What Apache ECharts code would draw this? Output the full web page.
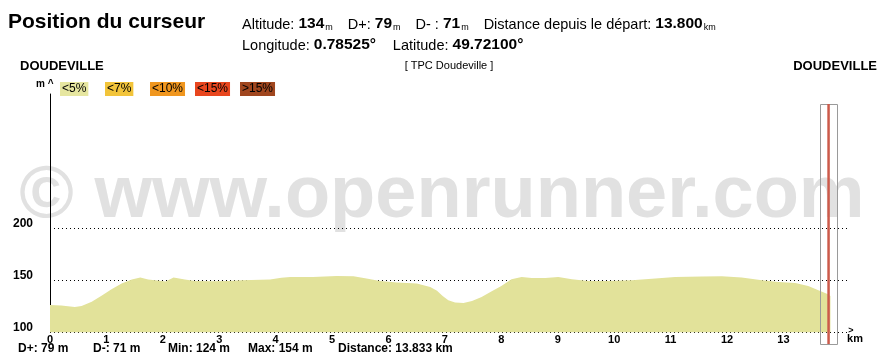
<!DOCTYPE html>
<html>
<head>
<meta charset="utf-8">
<script src="https://cdn.jsdelivr.net/npm/echarts@6/dist/echarts.min.js"></script>
<style>
html,body{margin:0;padding:0;background:#fff;}
#chart{width:884px;height:363px;}
</style>
</head>
<body>
<div id="chart"></div>
<script>
// ---- data ----
const distanceKm = [0, 0.2, 0.44, 0.56, 0.74, 0.92, 1.09, 1.27, 1.45, 1.6, 1.74, 1.98, 2.05, 2.19, 2.39, 2.57, 2.87, 3.16, 3.4, 3.9, 4.1, 4.26, 4.66, 5.08, 5.38, 5.61, 5.85, 6.15, 6.5, 6.74, 6.86, 6.96, 7.06, 7.18, 7.33, 7.48, 7.65, 7.83, 8.0, 8.18, 8.36, 8.54, 8.78, 9.01, 9.25, 9.54, 9.9, 10.31, 10.73, 11.08, 11.55, 11.91, 12.26, 12.62, 12.91, 13.21, 13.44, 13.62, 13.77, 13.833];
const elevationM = [126.5, 126, 124.5, 125.5, 129.5, 135.5, 141.5, 147, 151, 152.7, 150.8, 149.5, 149, 152.7, 150.8, 149.5, 149.2, 149.5, 150.2, 150.8, 152.5, 153.4, 153.4, 154.3, 154, 151.8, 149.5, 147.9, 147, 143.7, 140, 135, 131, 128.7, 128.4, 130.3, 134.1, 139.6, 144.7, 151.1, 153.4, 152.4, 152.4, 153.4, 151.1, 149.5, 149.5, 150.2, 151.8, 153.4, 153.7, 154, 152.7, 150.2, 148.6, 147.6, 144.7, 140.6, 137.3, 135];
const yTickLabels = [100, 150, 200];
const xTickLabels = [0,1,2,3,4,5,6,7,8,9,10,11,12,13];
const cursorKm = 13.8;
const legendLabels = ['<5%', '<7%', '<10%', '<15%', '>15%'];
const legendColors = ['#e6e6a0', '#f2c43a', '#f0961e', '#e8461e', '#a0461e'];
const statLabels = ['D+: 79 m', 'D-: 71 m', 'Min: 124 m', 'Max: 154 m', 'Distance: 13.833 km'];
const startName = 'DOUDEVILLE';
const endName = 'DOUDEVILLE';
const routeName = '[ TPC Doudeville ]';

const FF = '"Liberation Sans", Arial, sans-serif';
const chart = echarts.init(document.getElementById('chart'), null, {renderer: 'canvas'});

const seriesData = distanceKm.map((d, i) => [d, elevationM[i]]);

const legendX = [60, 105, 150, 195, 240];
const statX = [18, 93, 168, 248, 338];

const graphics = [
  {type: 'text', z: -1, x: 442, y: 197, style: {text: '\u00a9 www.openrunner.com', font: 'bold 74px ' + FF, fill: '#e1e1e1', align: 'center', verticalAlign: 'middle'}},
  {type: 'text', x: 8, y: 22, style: {text: 'Position du curseur', font: 'bold 21px ' + FF, fill: '#000', verticalAlign: 'middle'}},
  {type: 'text', x: 242, y: 32, style: {
    text: '{l|Altitude: }{v|134}{u|m}{l|D+: }{v|79}{u|m}{l|D- : }{v|71}{u|m}{l|Distance depuis le départ: }{v|13.800}{e|km}',
    verticalAlign: 'bottom',
    rich: {
      l: {font: '14.5px ' + FF, fill: '#000', lineHeight: 16, verticalAlign: 'bottom'},
      v: {font: 'bold 15.5px ' + FF, fill: '#000', lineHeight: 16, verticalAlign: 'bottom'},
      u: {font: '9px ' + FF, fill: '#000', lineHeight: 16, verticalAlign: 'bottom', padding: [0, 15, 0, 1]},
      e: {font: '9px ' + FF, fill: '#000', lineHeight: 16, verticalAlign: 'bottom', padding: [0, 0, 0, 1]}
    }
  }},
  {type: 'text', x: 242, y: 53, style: {
    text: '{l|Longitude: }{v|0.78525\u00b0}{s| }{l|Latitude: }{v|49.72100\u00b0}',
    verticalAlign: 'bottom',
    rich: {
      l: {font: '14.5px ' + FF, fill: '#000', lineHeight: 16, verticalAlign: 'bottom'},
      v: {font: 'bold 15.5px ' + FF, fill: '#000', lineHeight: 16, verticalAlign: 'bottom'},
      s: {font: '14px ' + FF, lineHeight: 16, padding: [0, 13, 0, 0]}
    }
  }},
  {type: 'text', x: 20, y: 66, style: {text: startName, font: 'bold 13px ' + FF, fill: '#000', verticalAlign: 'middle'}},
  {type: 'text', x: 877, y: 66, style: {text: endName, font: 'bold 13px ' + FF, fill: '#000', align: 'right', verticalAlign: 'middle'}},
  {type: 'text', x: 449, y: 66, style: {text: routeName, font: '11px ' + FF, fill: '#000', align: 'center', verticalAlign: 'middle'}},
  {type: 'text', x: 36, y: 84, style: {text: 'm ^', font: 'bold 10px ' + FF, fill: '#000', verticalAlign: 'middle'}},
  {type: 'text', x: 851, y: 331, style: {text: '>', font: 'bold 9px ' + FF, fill: '#000', align: 'center', verticalAlign: 'middle'}},
  {type: 'text', x: 855, y: 339, style: {text: 'km', font: 'bold 11px ' + FF, fill: '#000', align: 'center', verticalAlign: 'middle'}}
];
legendLabels.forEach((t, i) => {
  graphics.push({type: 'text', x: legendX[i], y: 82, style: {text: t, font: '12px ' + FF, fill: '#000', backgroundColor: legendColors[i], padding: [1, 2, 1, 2], lineHeight: 12, verticalAlign: 'top'}});
});
statLabels.forEach((t, i) => {
  graphics.push({type: 'text', x: statX[i], y: 349, style: {text: t, font: 'bold 12px ' + FF, fill: '#000', verticalAlign: 'middle'}});
});

const option = {
  animation: false,
  backgroundColor: '#fff',
  grid: {left: 50, right: 34, top: 94, bottom: 30.5},
  xAxis: {
    type: 'value', min: 0, max: 14.18, interval: 1,
    axisLine: {show: false}, axisTick: {show: false}, splitLine: {show: false},
    axisLabel: {
      margin: 2, color: '#000', fontWeight: 'bold', fontSize: 11, fontFamily: FF,
      showMaxLabel: false,
      formatter: v => (xTickLabels.indexOf(v) >= 0 ? String(v) : '')
    }
  },
  yAxis: {
    type: 'value', min: 100, max: 329, interval: 50,
    axisLine: {show: true, lineStyle: {color: '#000', width: 1}},
    axisTick: {show: false},
    axisLabel: {
      margin: 17, color: '#000', fontWeight: 'bold', fontSize: 12, fontFamily: FF,
      verticalAlign: 'bottom', lineHeight: 9, showMaxLabel: false,
      formatter: v => (yTickLabels.indexOf(v) >= 0 ? String(v) : '')
    },
    splitLine: {show: true, lineStyle: {type: [1, 3], width: 1,
      color: ['#000', '#000', '#000', 'rgba(0,0,0,0)', 'rgba(0,0,0,0)', 'rgba(0,0,0,0)', 'rgba(0,0,0,0)']}}
  },
  series: [{
    type: 'line', data: seriesData, showSymbol: false, symbol: 'none',
    lineStyle: {width: 0}, areaStyle: {color: '#e2e29a', opacity: 1}, z: 2
  }],
  graphic: graphics
};
chart.setOption(option);

const cx = chart.convertToPixel({gridIndex: 0}, [cursorKm, 100])[0];
graphics.push({type: 'rect', z: 10, shape: {x: Math.round(cx) - 8.5, y: 104.5, width: 17, height: 240}, style: {fill: 'none', stroke: '#9a9a9a', lineWidth: 1}});
graphics.push({type: 'line', z: 11, shape: {x1: cx, y1: 104, x2: cx, y2: 344}, style: {stroke: '#cc5a4a', lineWidth: 2.5}});
chart.setOption({graphic: graphics});
</script>
</body>
</html>
